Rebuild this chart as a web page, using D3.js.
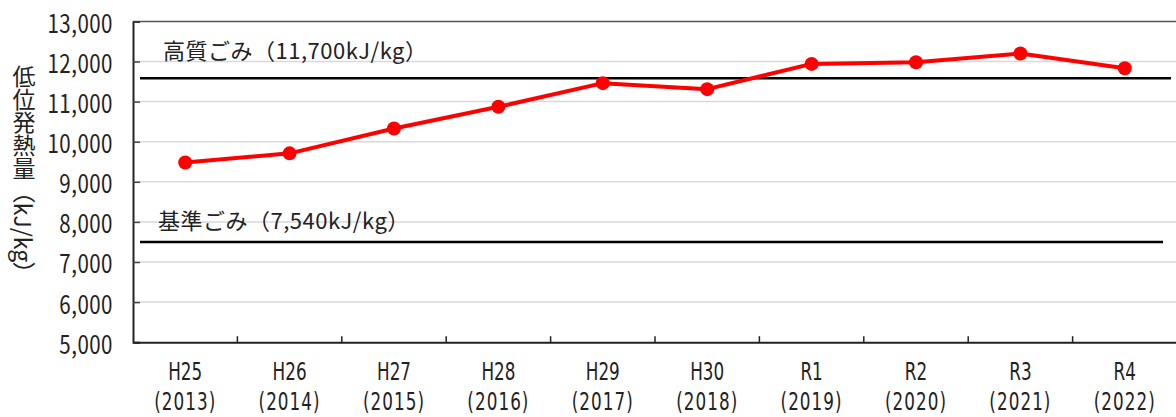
<!DOCTYPE html>
<html lang="ja">
<head>
<meta charset="utf-8">
<script src="https://cdn.jsdelivr.net/npm/d3@7/dist/d3.min.js"></script>
<style>
  html, body { margin: 0; padding: 0; background: #fff; }
  svg { display: block; }
  text { font-family: "Noto Sans CJK JP", "Noto Sans", sans-serif; fill: #222; }
  text.xlab { font-family: "DejaVu Sans", "Liberation Sans", sans-serif; }
</style>
</head>
<body>
<svg id="chart" width="1176" height="417"></svg>
<script>
// ---- data ----
const categories = ["H25", "H26", "H27", "H28", "H29", "H30", "R1", "R2", "R3", "R4"];
const years = ["(2013)", "(2014)", "(2015)", "(2016)", "(2017)", "(2018)", "(2019)", "(2020)", "(2021)", "(2022)"];
const heatValues = [9480, 9710, 10330, 10870, 11460, 11310, 11940, 11980, 12200, 11830];
const yTicks = [5000, 6000, 7000, 8000, 9000, 10000, 11000, 12000, 13000];
const refLabels = ["高質ごみ（11,700kJ/kg）", "基準ごみ（7,540kJ/kg）"];
const refValues = [11580, 7500];
const yTitle = "低位発熱量（kJ/kg）";

// ---- layout ----
const svg = d3.select("#chart");
const mLeft = 133, mRight = 1177, mTop = 21.4, mBottom = 342.2;

const x = d3.scaleBand().domain(categories).range([mLeft, mRight]).paddingInner(0).paddingOuter(0);
const y = d3.scaleLinear().domain([5000, 13000]).range([mBottom, mTop]);

// gridlines
svg.append("g").selectAll("line").data(yTicks.filter(d => d !== 5000)).join("line")
  .attr("x1", mLeft).attr("x2", mRight)
  .attr("y1", d => y(d)).attr("y2", d => y(d))
  .attr("stroke", d => d === 13000 ? "#555" : "#d9d9d9")
  .attr("stroke-width", 1.5);

// y axis
const yAxis = d3.axisLeft(y).tickValues(yTicks).tickSize(-7).tickPadding(0)
  .tickFormat(d3.format(","));
const gy = svg.append("g").attr("transform", `translate(${mLeft},0)`).call(yAxis);
gy.select(".domain").attr("stroke", "#222").attr("stroke-width", 2);
gy.selectAll(".tick line").attr("stroke", "#444").attr("stroke-width", 1.5);
gy.selectAll(".tick text").remove();
gy.selectAll(".tick").append("text")
  .attr("transform", "translate(-20,0) scale(0.82,1)")
  .attr("text-anchor", "end")
  .attr("dominant-baseline", "central")
  .attr("font-size", 25)
  .attr("letter-spacing", 0.6)
  .attr("fill", "#222")
  .text(d => d3.format(",")(d));

// x axis
const xAxis = d3.axisBottom(x).tickSize(0).tickFormat("");
const gx = svg.append("g").attr("transform", `translate(0,${mBottom})`).call(xAxis);
gx.select(".domain").attr("stroke", "#222").attr("stroke-width", 2);
// band boundary ticks (inward)
svg.append("g").selectAll("line").data(categories.slice(1)).join("line")
  .attr("x1", d => x(d)).attr("x2", d => x(d))
  .attr("y1", mBottom).attr("y2", mBottom - 6)
  .attr("stroke", "#222").attr("stroke-width", 1.5);

// x labels
const xl = svg.append("g").selectAll("g").data(categories).join("g")
  .attr("transform", d => `translate(${x(d) + x.bandwidth() / 2},0)`);
xl.append("text").attr("class", "xlab")
  .attr("transform", "translate(0,372) scale(0.7,1)")
  .attr("text-anchor", "middle").attr("dominant-baseline", "central")
  .attr("font-size", 24)
  .text(d => d);
xl.append("text").attr("class", "xlab")
  .attr("transform", "translate(0,402) scale(0.7,1)")
  .attr("text-anchor", "middle").attr("dominant-baseline", "central")
  .attr("font-size", 24)
  .attr("letter-spacing", 1.5)
  .text((d, i) => years[i]);

// reference lines
const refEnds = [mRight - 6, mRight - 14];
const refLabelX = [mLeft + 30, mLeft + 25];
const refLabelDy = [-29.5, -22.5];
refValues.forEach((v, i) => {
  svg.append("line")
    .attr("x1", mLeft + 7).attr("x2", refEnds[i])
    .attr("y1", y(v)).attr("y2", y(v))
    .attr("stroke", "#000").attr("stroke-width", 2.5);
  svg.append("text")
    .attr("x", refLabelX[i]).attr("y", y(v) + refLabelDy[i])
    .attr("dominant-baseline", "central")
    .attr("font-size", 22)
    .attr("letter-spacing", 0.5)
    .attr("fill", "#222")
    .text(refLabels[i]);
});

// series line
const line = d3.line()
  .x((d, i) => x(categories[i]) + x.bandwidth() / 2)
  .y(d => y(d));
svg.append("path").datum(heatValues)
  .attr("d", line)
  .attr("fill", "none").attr("stroke", "#ff0000").attr("stroke-width", 4)
  .attr("stroke-linejoin", "round");
svg.append("g").selectAll("circle").data(heatValues).join("circle")
  .attr("cx", (d, i) => x(categories[i]) + x.bandwidth() / 2)
  .attr("cy", d => y(d))
  .attr("r", 7)
  .attr("fill", "#ff0000");

// y title (vertical)
svg.append("text")
  .attr("x", 24).attr("y", 175)
  .attr("text-anchor", "middle")
  .style("writing-mode", "vertical-rl")
  .attr("font-size", 23)
  .attr("fill", "#222")
  .text(yTitle);
</script>
</body>
</html>
